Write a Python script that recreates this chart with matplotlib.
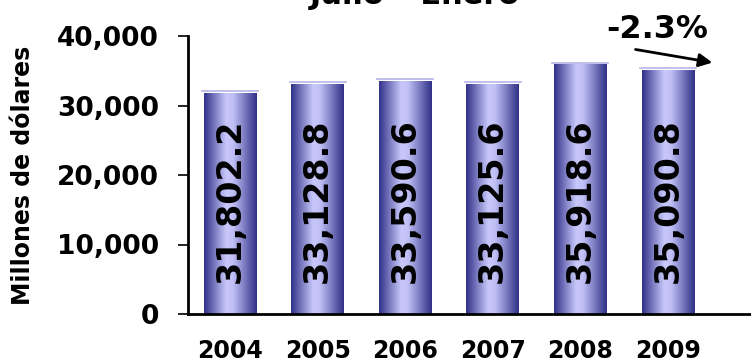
import numpy as np
import matplotlib.pyplot as plt
from matplotlib.colors import LinearSegmentedColormap

anios = ["2004", "2005", "2006", "2007", "2008", "2009"]
valores = [31802.2, 33128.8, 33590.6, 33125.6, 35918.6, 35090.8]
etiquetas = ["31,802.2", "33,128.8", "33,590.6", "33,125.6", "35,918.6", "35,090.8"]
yticks = [0, 10000, 20000, 30000, 40000]
ytick_labels = ["0", "10,000", "20,000", "30,000", "40,000"]
variacion = "-2.3%"

plt.rcParams['font.family'] = ['DejaVu Sans']
plt.rcParams['font.weight'] = 'bold'

fig = plt.figure(figsize=(7.51, 3.62), dpi=100)
ax = fig.add_axes([188/751, 48/362, (751-188)/751, 278/362])

x = np.arange(len(anios))
barras = ax.bar(x, valores, width=0.6, color='none', edgecolor='none', zorder=2)

# degradado horizontal dentro de cada barra
cmap = LinearSegmentedColormap.from_list("azul", [(0, "#303088"), (0.42, "#c8c8fc"),
                                                  (0.55, "#c0c0f6"), (1, "#303088")])
grad = np.linspace(0, 1, 256).reshape(1, -1)
for b in barras:
    x0, y0 = b.get_x(), b.get_y()
    w, h = b.get_width(), b.get_height()
    im = ax.imshow(grad, cmap=cmap, aspect='auto', extent=[x0, x0 + w, y0, y0 + h],
                   zorder=2, interpolation='bicubic')
    im.set_clip_path(b)
    ax.plot([x0 - 0.02, x0 + w + 0.02], [y0 + h + 250, y0 + h + 250],
            color="#b4b4e8", lw=1.2, zorder=2)

for xi, v, t in zip(x, valores, etiquetas):
    ax.text(xi, 4500, t, rotation=90, ha='center', va='bottom', fontsize=24,
            fontweight='heavy', color='black', zorder=3)

ax.set_xlim(-0.48, 5.95)
ax.set_ylim(0, 40000)
ax.set_yticks(yticks)
ax.set_yticklabels(ytick_labels, fontsize=19, fontweight='bold')
ax.set_xticks(x)
ax.set_xticklabels(anios, fontsize=17, fontweight='bold')
ax.tick_params(axis='x', length=0, pad=18)
ax.tick_params(axis='y', direction='out', length=7, width=1.2, pad=14)
ax.spines['top'].set_visible(False)
ax.spines['right'].set_visible(False)
ax.spines['left'].set_linewidth(2)
ax.spines['bottom'].set_linewidth(2)
ax.set_ylabel("Millones de dólares", fontsize=17, fontweight='bold')
ax.yaxis.set_label_coords(-0.272, 0.5)

fig.text(415/751, 1 - 4/362, "Julio – Enero", ha='center', va='baseline',
         fontsize=22, fontweight='bold')

ax.annotate("", xy=(5.54, valores[5] + 1020), xytext=(4.60, valores[5] + 3040),
            arrowprops=dict(arrowstyle='-|>', color='black', lw=2, mutation_scale=20),
            annotation_clip=False)
ax.text(4.88, 39700, variacion, ha='center', va='baseline', fontsize=23,
        fontweight='bold', clip_on=False)

fig.savefig("out.png", dpi=100)
